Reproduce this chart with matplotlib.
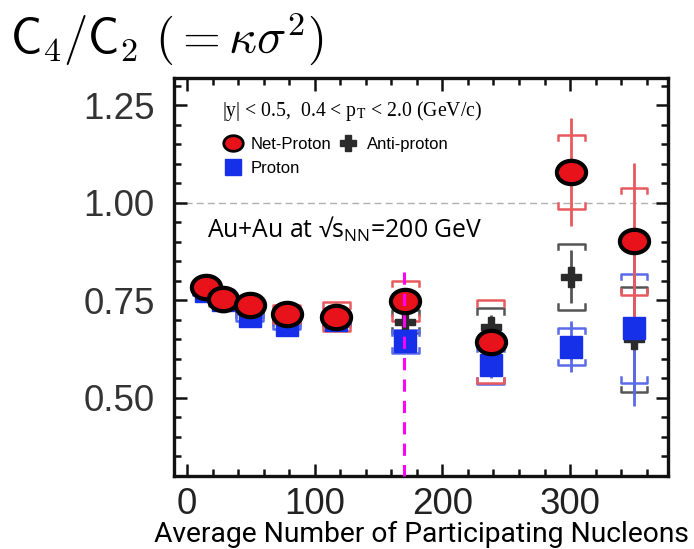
import numpy as np
import matplotlib
matplotlib.use("Agg")
import matplotlib.pyplot as plt
from matplotlib.path import Path
from matplotlib.ticker import MultipleLocator, FixedLocator
from matplotlib.lines import Line2D

# ---------------- data ----------------
npart = [15, 28, 49, 78, 117, 171, 238, 301, 350]

net_proton = [0.784, 0.753, 0.738, 0.715, 0.708, 0.749, 0.644, 1.080, 0.902]
net_stat   = [0.010, 0.010, 0.012, 0.012, 0.015, 0.030, 0.030, 0.138, 0.200]
net_sys    = [0.010, 0.010, 0.012, 0.023, 0.037, 0.051, 0.106, 0.095, 0.137]

anti_proton = [0.775, 0.745, 0.725, 0.705, 0.700, 0.696, 0.683, 0.811, 0.650]
anti_stat   = [0.010, 0.010, 0.012, 0.012, 0.015, 0.030, 0.030, 0.068, 0.140]
anti_sys    = [0.010, 0.010, 0.010, 0.012, 0.015, 0.030, 0.047, 0.085, 0.135]

proton     = [0.775, 0.752, 0.710, 0.688, 0.700, 0.645, 0.585, 0.632, 0.679]
proton_stat = [0.010, 0.010, 0.012, 0.012, 0.015, 0.030, 0.035, 0.066, 0.200]
proton_sys  = [0.010, 0.010, 0.012, 0.012, 0.015, 0.030, 0.049, 0.048, 0.140]

xticks = [0, 100, 200, 300]
yticks = [0.50, 0.75, 1.00, 1.25]
reference_line = 1.0
marker_line_x = 170
marker_line_top = 0.823

# ---------------- figure ----------------
W, H = 694, 549
fig = plt.figure(figsize=(W / 100, H / 100), dpi=100)
ax = fig.add_axes([174 / W, 1 - 476 / H, (668 - 174) / W, (476 - 78) / H])
ax.set_xlim(-10.2, 376.7)
ax.set_ylim(0.30, 1.3205)

# elliptical marker (picture is horizontally stretched)
th = np.linspace(0, 2 * np.pi, 80)
ellipse = Path(np.column_stack([1.25 * np.cos(th), np.sin(th)]), closed=True)

RED = "#e8121a"
RED_LINE = "#e85a5e"
BLUE = "#1530e8"
BLUE_LINE = "#5a6ae8"
BLACK = "#2b2b2b"
BLACK_LINE = "#555555"

half_w = 10.5   # half width of sys brackets, data units
tick_h = 0.014  # bracket tick height


def draw_series(x, y, stat, sys, lcol, z):
    x = np.asarray(x, float); y = np.asarray(y, float)
    stat = np.asarray(stat); sys = np.asarray(sys)
    for xi, yi, st, sy in zip(x, y, stat, sys):
        ax.plot([xi, xi], [yi - st, yi + st], color=lcol, lw=2.0, zorder=z, solid_capstyle="butt")
        top = yi + sy
        bot = yi - sy
        ax.plot([xi - half_w, xi - half_w, xi + half_w, xi + half_w],
                [top - tick_h, top, top, top - tick_h], color=lcol, lw=1.8, zorder=z)
        ax.plot([xi - half_w, xi - half_w, xi + half_w, xi + half_w],
                [bot + tick_h, bot, bot, bot + tick_h], color=lcol, lw=1.8, zorder=z)


draw_series(npart, anti_proton, anti_stat, anti_sys, BLACK_LINE, 2)
draw_series(npart, proton, proton_stat, proton_sys, BLUE_LINE, 2)
draw_series(npart, net_proton, net_stat, net_sys, RED_LINE, 2)

ax.plot(npart, anti_proton, ls="none", marker="P", ms=15, color=BLACK, mec=BLACK, zorder=3)
ax.plot(npart, proton, ls="none", marker="s", ms=16, color=BLUE, mec=BLUE, zorder=4)
ax.plot(npart, net_proton, ls="none", marker=ellipse, ms=21, mfc=RED, mec="black", mew=3.0, zorder=5)

# reference dashed line and magenta marker line
ax.axhline(reference_line, color="#b0b0b0", lw=1.0, dashes=(5, 3), zorder=1)
ax.plot([marker_line_x, marker_line_x], [marker_line_top, 0.30], color="#ff00ff",
        lw=2.2, dashes=(4, 3), zorder=6, clip_on=False)

# ---------------- axes styling ----------------
for s in ax.spines.values():
    s.set_linewidth(2.4)
    s.set_color("#111111")
ax.xaxis.set_major_locator(FixedLocator(xticks))
ax.xaxis.set_minor_locator(MultipleLocator(20))
ax.yaxis.set_major_locator(FixedLocator(yticks))
ax.yaxis.set_minor_locator(MultipleLocator(0.05))
ax.tick_params(which="both", direction="in", top=True, right=True, width=1.8, color="#111111")
ax.tick_params(which="major", length=9)
ax.tick_params(which="minor", length=5)
ax.tick_params(axis="y", which="major", pad=14, labelsize=26.5, labelcolor="#333333")
ax.tick_params(axis="x", which="major", pad=8, labelsize=26.5, labelcolor="#222222")
for lab in ax.get_yticklabels() + ax.get_xticklabels():
    lab.set_fontfamily("Liberation Sans")
ax.set_yticklabels([f"{v:.2f}" for v in yticks])
ax.set_xticklabels([str(v) for v in xticks])

ax.set_xlabel("Average Number of Participating Nucleons", family="Roboto", fontsize=20.3, color="black")
ax.xaxis.set_label_coords(0.5, -0.112)

# ---------------- texts ----------------
fig.text(10 / W, 1 - 10 / H, r"$\mathsf{C}_\mathsf{4}/\mathsf{C}_\mathsf{2}\ (=\kappa\sigma^2)$",
         fontsize=35, math_fontfamily="cm", va="top", ha="left")

ax.text(0.097, 0.918, r"|y| < 0.5,  0.4 < p$_{\rm T}$ < 2.0 (GeV/c)", transform=ax.transAxes,
        family="Liberation Serif", math_fontfamily="stix", fontsize=14.2, va="center", ha="left")

ax.text(0.067, 0.62, r"Au+Au at √s$\mathregular{_{NN}}$=200 GeV", transform=ax.transAxes,
        family="Open Sans", fontsize=17.8, va="center", ha="left")

handles = [
    Line2D([], [], ls="none", marker=ellipse, ms=14, mfc=RED, mec="black", mew=2.0),
    Line2D([], [], ls="none", marker="s", ms=11, color=BLUE),
    Line2D([], [], ls="none", marker="P", ms=12, color=BLACK),
]
labels = ["Net-Proton", "Proton", "Anti-proton"]
leg = ax.legend(handles, labels, ncol=2, loc="upper left", bbox_to_anchor=(0.085, 0.873),
                frameon=False, borderpad=0, handlelength=1.0, handletextpad=0.6,
                columnspacing=0.5, labelspacing=0.55,
                prop={"family": "Liberation Sans", "size": 12})

fig.savefig("out.png", dpi=100)
